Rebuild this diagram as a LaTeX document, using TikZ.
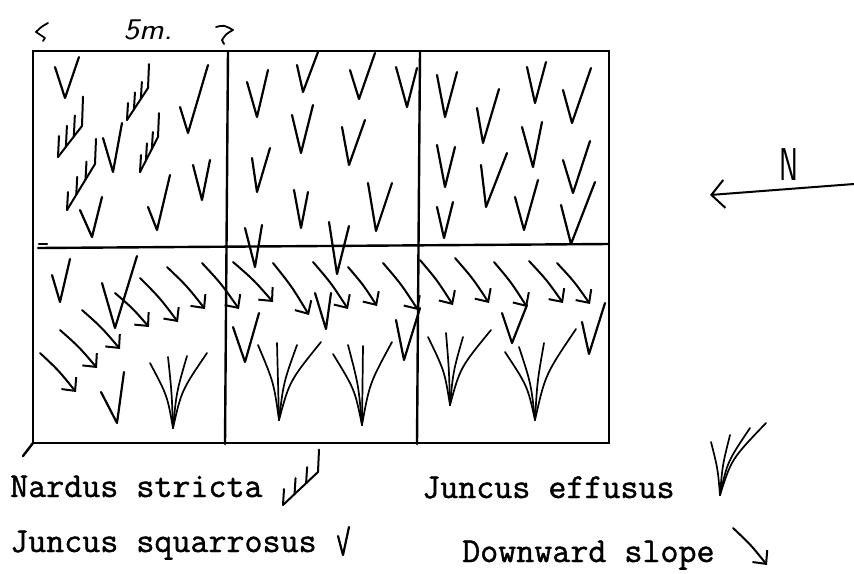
\documentclass[tikz,border=0pt]{standalone}
\usepackage{fontspec}
\newfontfamily\typefont{Latin Modern Mono}[FakeBold=1.2]
\usetikzlibrary{arrows.meta,calc}

% pen styles for the field sketch
\tikzset{
  frame/.style={line width=2.4pt, line cap=round},
  rush/.style={line width=2.2pt, line cap=round, line join=round},
  fan/.style={line width=1.7pt, line cap=round},
  comb/.style={line width=2pt, line cap=round},
  slopearrow/.style={line width=2pt, line cap=round,
    -{Straight Barb[length=10pt,width=19pt,line width=2pt]}},
  compass/.style={line width=2pt, line cap=round,
    -{Straight Barb[length=13pt,width=28pt,line width=2pt]}},
  legend/.style={font=\fontsize{35}{35}\typefont, inner sep=0pt, anchor=base west},
  hand/.style={inner sep=0pt}
}

% Juncus squarrosus: left tip, bottom, right tip
\newcommand\sqV[6]{\draw[rush] (#1,#2) -- (#3,#4) -- (#5,#6);}
% Nardus stricta: stalk from (#1,#2) up to (#3,#4), teeth of height #5,
% the last tooth a little longer
\newcommand\nard[5]{%
  \draw[comb] (#1,#2) -- (#3,#4);
  \foreach \f in {0,0.33,0.66}
    \draw[comb] ($(#1,#2)!\f!(#3,#4)$) -- ++(1,-#5);
  \draw[comb] (#3,#4) -- ++(1,{-1.4*#5});}
% Juncus effusus: base (#1,#2), list of blade tips
\newcommand\clump[3]{%
  \foreach \tx/\ty in {#3}
    \draw[fan] (#1,#2) .. controls ({#1+0.25*(\tx-#1)},{(#2+\ty)/2}) .. (\tx,\ty);}
% downward slope arrow, a gently bowed stroke
\newcommand\slope[4]{%
  \draw[slopearrow] (#1,#2) .. controls ({#1+0.52*(#3-#1)},{#2+0.45*(#4-#2)}) .. (#3,#4);}

\begin{document}
\begin{tikzpicture}[x=1pt,y=-1pt]
\useasboundingbox (0,0) rectangle (854,573);

% quadrat grid
\coordinate (tl) at (33,51);
\coordinate (br) at (609,443);
\draw[frame] (tl) rectangle (br);
\draw[frame] (228,51) -- (225,444);
\draw[frame] (420,51) -- (417,444);
\draw[frame] (38,248) -- (609,244);
\draw[frame] (39,244) -- (47,244);
\draw[frame] (33,443) -- (23,456);

% scale mark
\draw[rush,line width=1.8pt] (48,23) .. controls (41,27) .. (36,32) .. controls (41,35) .. (45,38) -- (43,41);
\draw[rush,line width=1.8pt] (216,27) .. controls (224,25) .. (233,30) .. controls (226,34) .. (222,40) -- (224,44);
\node[hand, font=\fontsize{30}{30}\sffamily\slshape, xscale=1.1] (scale) at (148,30) {5m.};

% north arrow
\coordinate (ntail) at (854,184);
\coordinate (nhead) at (710,195);
\draw[compass] (ntail) -- (nhead);
\node[hand, font=\fontsize{46}{46}\sffamily, xscale=0.62] (north) at (789,165) {N};

% ---- upper left quadrat
\sqV{55}{67}{65}{98}{79}{57}
\sqV{103}{138}{113}{172}{122}{123}
\sqV{180}{107}{188}{133}{208}{65}
\sqV{193}{165}{202}{200}{210}{160}
\sqV{80}{210}{92}{237}{102}{197}
\sqV{148}{207}{157}{230}{170}{175}
\nard{58}{157}{82}{126}{21}
\nard{67}{210}{95}{164}{18}
\nard{127}{120}{148}{88}{17}
\nard{140}{172}{158}{137}{17}

% ---- upper middle quadrat
\sqV{247}{82}{257}{117}{268}{70}
\sqV{297}{65}{303}{92}{318}{52}
\sqV{350}{70}{359}{99}{375}{53}
\sqV{396}{67}{407}{107}{417}{68}
\sqV{292}{115}{301}{153}{313}{105}
\sqV{342}{127}{349}{165}{365}{120}
\sqV{252}{158}{257}{192}{270}{148}
\sqV{294}{190}{301}{228}{308}{192}
\sqV{368}{183}{376}{231}{392}{183}
\sqV{245}{228}{255}{267}{262}{225}
\sqV{329}{222}{337}{274}{349}{226}

% ---- upper right quadrat
\sqV{437}{75}{445}{117}{457}{72}
\sqV{477}{108}{483}{143}{499}{89}
\sqV{527}{67}{535}{103}{546}{62}
\sqV{563}{90}{572}{123}{591}{68}
\sqV{437}{145}{445}{187}{455}{147}
\sqV{481}{165}{486}{207}{507}{153}
\sqV{522}{127}{533}{167}{542}{122}
\sqV{563}{160}{573}{193}{590}{141}
\sqV{437}{207}{444}{238}{453}{202}
\sqV{515}{197}{524}{230}{538}{180}
\sqV{561}{205}{571}{244}{595}{182}

% ---- lower left quadrat
\sqV{52}{275}{60}{302}{70}{259}
\sqV{102}{283}{115}{328}{137}{256}
\sqV{101}{392}{117}{423}{124}{372}
\slope{140}{278}{178}{322}
\slope{167}{267}{205}{309}
\slope{202}{263}{239}{309}
\slope{115}{293}{149}{327}
\slope{82}{310}{120}{349}
\slope{60}{330}{97}{368}
\slope{40}{353}{76}{392}
\clump{173}{428}{150/363,168/357,187/356,207/353}

% ---- lower middle quadrat
\sqV{233}{327}{245}{362}{259}{313}
\sqV{315}{293}{326}{329}{331}{293}
\sqV{396}{320}{404}{360}{420}{308}
\slope{233}{262}{273}{302}
\slope{273}{263}{309}{315}
\slope{313}{262}{348}{309}
\slope{348}{267}{377}{306}
\slope{383}{263}{418}{310}
\clump{279}{420}{258/345,277/343,297/345,321/342}
\clump{362}{425}{333/354,348/345,363/346,392/342}

% ---- lower right quadrat
\sqV{502}{313}{512}{343}{527}{305}
\sqV{582}{322}{589}{354}{605}{303}
\slope{420}{260}{453}{305}
\slope{455}{258}{489}{303}
\slope{494}{262}{527}{307}
\slope{529}{261}{563}{303}
\slope{557}{263}{590}{304}
\clump{450}{405}{428/337,446/333,463/337,491/330}
\clump{535}{420}{505/352,519/347,544/343,576/329}

% ---- key
\node[legend] (nardus) at (10,497) {Nardus stricta};
\nard{283}{505}{318}{472}{16}
\node[legend] (squarr) at (10,552) {Juncus squarrosus};
\sqV{338}{536}{343}{555}{349}{527}
\node[legend] (effusus) at (422,498) {Juncus effusus};
\clump{720}{495}{711/442,730/435,750/428,766/423}
\node[legend] (slopekey) at (462,562) {Downward slope};
\slope{733}{528}{767}{565}
\end{tikzpicture}
\end{document}
